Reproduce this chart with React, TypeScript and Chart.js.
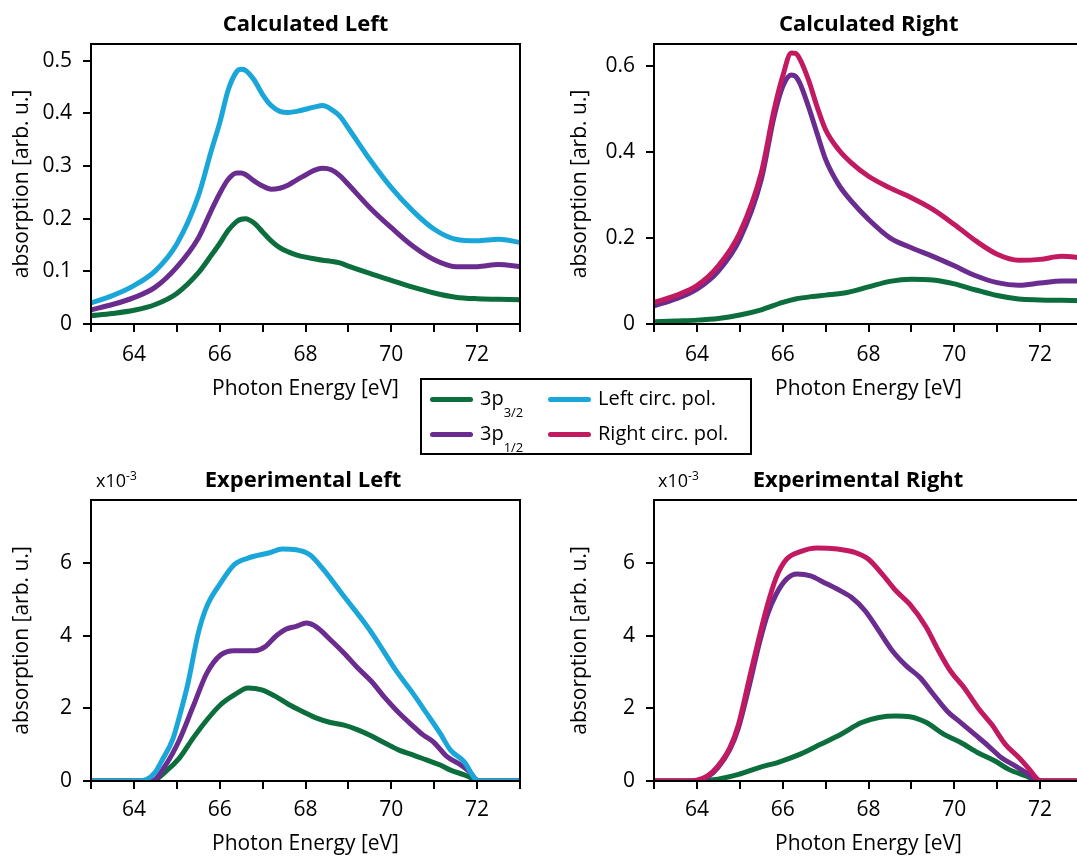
import React, { useEffect, useRef } from 'react';
import { Chart, registerables } from 'chart.js';

Chart.register(...registerables);
Chart.defaults.color = '#000';

const FONT = "'Open Sans', sans-serif";

const GREEN = '#0b6e3c';
const PURPLE = '#6a2c8e';
const BLUE = '#1ba6da';
const MAGENTA = '#c21a60';

// ---- Calculated, left circular polarisation ----
const calcLeftTotalE = [63, 63.5, 64, 64.5, 65, 65.5, 65.8, 66, 66.2, 66.4, 66.5, 66.6, 66.8, 67, 67.2, 67.4, 67.6, 67.8, 68, 68.2, 68.4, 68.6, 68.8, 69, 69.5, 70, 70.5, 71, 71.5, 72, 72.5, 73];
const calcLeftTotal = [0.04, 0.054, 0.073, 0.101, 0.152, 0.243, 0.328, 0.382, 0.445, 0.48, 0.484, 0.482, 0.464, 0.436, 0.415, 0.404, 0.402, 0.404, 0.408, 0.412, 0.415, 0.408, 0.395, 0.372, 0.3125, 0.259, 0.215, 0.18, 0.161, 0.158, 0.161, 0.155];
const calcLeftHalfE = [63, 63.5, 64, 64.5, 65, 65.5, 65.8, 66, 66.2, 66.4, 66.5, 66.6, 66.8, 67, 67.2, 67.4, 67.6, 67.8, 68, 68.2, 68.4, 68.6, 68.8, 69, 69.5, 70, 70.5, 71, 71.5, 72, 72.5, 73];
const calcLeftHalf = [0.027, 0.037, 0.05, 0.07, 0.108, 0.163, 0.215, 0.248, 0.275, 0.287, 0.287, 0.284, 0.272, 0.262, 0.256, 0.258, 0.264, 0.274, 0.283, 0.292, 0.296, 0.293, 0.282, 0.265, 0.221, 0.183, 0.148, 0.122, 0.109, 0.109, 0.113, 0.109];
const calcLeftThreeHalfE = [63, 63.5, 64, 64.5, 65, 65.5, 65.8, 66, 66.2, 66.4, 66.5, 66.6, 66.8, 67, 67.2, 67.4, 67.6, 67.8, 68, 68.2, 68.4, 68.6, 68.8, 69, 69.5, 70, 70.5, 71, 71.5, 72, 72.5, 73];
const calcLeftThreeHalf = [0.016, 0.02, 0.026, 0.037, 0.058, 0.097, 0.13, 0.153, 0.178, 0.195, 0.199, 0.2, 0.192, 0.175, 0.158, 0.145, 0.137, 0.131, 0.127, 0.124, 0.121, 0.119, 0.116, 0.11, 0.096, 0.083, 0.07, 0.059, 0.051, 0.048, 0.047, 0.046];

// ---- Calculated, right circular polarisation ----
const calcRightTotalE = [63, 63.5, 64, 64.5, 65, 65.5, 65.8, 66, 66.2, 66.3, 66.4, 66.6, 66.8, 67, 67.3, 67.6, 68, 68.5, 69, 69.5, 70, 70.5, 71, 71.5, 72, 72.5, 73];
const calcRightTotal = [0.05, 0.066, 0.089, 0.135, 0.212, 0.351, 0.497, 0.575, 0.629, 0.628, 0.615, 0.567, 0.505, 0.451, 0.405, 0.374, 0.343, 0.316, 0.293, 0.266, 0.231, 0.193, 0.162, 0.148, 0.15, 0.157, 0.154];
const calcRightHalfE = [63, 63.5, 64, 64.5, 65, 65.5, 65.8, 66, 66.2, 66.3, 66.4, 66.6, 66.8, 67, 67.3, 67.6, 68, 68.5, 69, 69.5, 70, 70.5, 71, 71.5, 72, 72.5, 73];
const calcRightHalf = [0.042, 0.058, 0.081, 0.123, 0.197, 0.335, 0.482, 0.551, 0.578, 0.575, 0.559, 0.505, 0.443, 0.382, 0.324, 0.285, 0.243, 0.2, 0.177, 0.157, 0.135, 0.112, 0.096, 0.09, 0.095, 0.1, 0.1];
const calcRightThreeHalfE = [63, 63.5, 64, 64.5, 65, 65.5, 66, 66.3, 66.7, 67, 67.5, 68, 68.5, 69, 69.5, 70, 70.5, 71, 71.5, 72, 72.5, 73];
const calcRightThreeHalf = [0.005, 0.007, 0.009, 0.013, 0.021, 0.033, 0.05, 0.058, 0.064, 0.067, 0.073, 0.086, 0.099, 0.104, 0.102, 0.093, 0.079, 0.066, 0.058, 0.056, 0.055, 0.054];

// ---- Experimental, left circular polarisation (x10^-3) ----
const expLeftTotalE = [63, 64, 64.3, 64.5, 64.66, 64.9, 65.06, 65.26, 65.5, 65.7, 66.02, 66.34, 66.66, 67.14, 67.46, 67.78, 68.1, 68.42, 68.9, 69.38, 69.7, 70.1, 70.5, 70.82, 71.14, 71.38, 71.7, 71.98, 72.1, 73];
const expLeftTotal = [0, 0, 0.05, 0.25, 0.58, 1.13, 1.77, 2.69, 4.07, 4.81, 5.45, 5.96, 6.14, 6.28, 6.39, 6.37, 6.23, 5.82, 5.08, 4.35, 3.8, 3.06, 2.42, 1.87, 1.31, 0.85, 0.53, 0.03, 0, 0];
const expLeftHalfE = [63, 64.42, 64.74, 65.06, 65.38, 65.7, 66.02, 66.34, 66.82, 67.06, 67.3, 67.54, 67.78, 68.02, 68.26, 68.58, 68.9, 69.22, 69.54, 69.86, 70.18, 70.5, 70.74, 70.98, 71.3, 71.62, 71.86, 71.98, 72.1, 73];
const expLeftHalf = [0, 0, 0.44, 1.13, 2.05, 2.97, 3.47, 3.59, 3.59, 3.7, 3.98, 4.18, 4.26, 4.35, 4.24, 3.89, 3.52, 3.11, 2.74, 2.28, 1.87, 1.52, 1.27, 1.08, 0.67, 0.44, 0.21, 0.03, 0, 0];
const expLeftThreeHalfE = [63, 64.42, 64.74, 65.06, 65.38, 65.7, 66.02, 66.34, 66.66, 66.98, 67.3, 67.62, 67.94, 68.26, 68.58, 68.9, 69.22, 69.54, 69.86, 70.18, 70.5, 70.82, 71.14, 71.38, 71.7, 71.98, 72.1, 73];
const expLeftThreeHalf = [0, 0, 0.26, 0.63, 1.18, 1.68, 2.1, 2.37, 2.56, 2.51, 2.33, 2.1, 1.91, 1.73, 1.61, 1.54, 1.41, 1.24, 1.04, 0.85, 0.72, 0.58, 0.44, 0.3, 0.17, 0.03, 0, 0];

// ---- Experimental, right circular polarisation (x10^-3) ----
const expRightTotalE = [63, 63.8, 64, 64.25, 64.49, 64.77, 64.97, 65.21, 65.45, 65.65, 65.85, 66.09, 66.41, 66.8, 67.28, 67.68, 68, 68.32, 68.64, 68.96, 69.35, 69.59, 69.91, 70.23, 70.55, 70.87, 71.19, 71.51, 71.75, 71.98, 72.1, 73];
const expRightTotal = [0, 0, 0.02, 0.14, 0.41, 0.92, 1.56, 2.76, 3.95, 4.87, 5.61, 6.11, 6.32, 6.42, 6.39, 6.3, 6.11, 5.7, 5.24, 4.87, 4.23, 3.68, 3.03, 2.57, 2.02, 1.56, 1.01, 0.64, 0.32, 0.02, 0, 0];
const expRightHalfE = [63, 64, 64.25, 64.49, 64.77, 64.97, 65.21, 65.45, 65.65, 65.85, 66.09, 66.33, 66.65, 66.96, 67.28, 67.6, 67.92, 68.24, 68.56, 68.88, 69.2, 69.51, 69.83, 70.15, 70.47, 70.79, 71.1, 71.43, 71.67, 71.98, 72.1, 73];
const expRightHalf = [0, 0, 0.11, 0.37, 0.87, 1.47, 2.57, 3.77, 4.6, 5.15, 5.56, 5.7, 5.65, 5.47, 5.28, 5.06, 4.69, 4.14, 3.58, 3.17, 2.85, 2.39, 1.93, 1.61, 1.29, 0.97, 0.64, 0.41, 0.23, 0, 0, 0];
const expRightThreeHalfE = [63, 64, 64.49, 64.97, 65.45, 65.93, 66.41, 66.88, 67.36, 67.84, 68.24, 68.64, 68.96, 69.35, 69.75, 70.15, 70.55, 70.95, 71.27, 71.67, 71.98, 72.1, 73];
const expRightThreeHalf = [0, 0, 0.05, 0.18, 0.37, 0.53, 0.74, 1.01, 1.29, 1.61, 1.75, 1.79, 1.77, 1.61, 1.29, 1.06, 0.78, 0.55, 0.32, 0.14, 0, 0, 0];

// Axis ranges and tick steps
const energyRange = [63, 73];
const calcLeftYMax = 0.532;
const calcRightYMax = 0.65;
const expYMax = 7.74;

type Series = { e: number[]; v: number[]; color: string };

type PanelSpec = {
  left: number;
  top: number;
  width: number;
  height: number;
  padTop: number;
  xAxisHeight: number;
  yMax: number;
  yStep: number;
  xTickPad: number;
  xTitlePad: number;
  yTitlePad: number;
  series: Series[];
};

const AREA_LEFT = 91;
const AREA_WIDTH = 429;

const framePlugin = {
  id: 'frame',
  afterDraw(chart: any) {
    const { ctx, chartArea: a } = chart;
    ctx.save();
    ctx.strokeStyle = '#000';
    ctx.lineWidth = 2;
    ctx.strokeRect(a.left, a.top, a.right - a.left, a.bottom - a.top);
    ctx.restore();
  },
};

function Panel({ spec }: { spec: PanelSpec }) {
  const ref = useRef<HTMLCanvasElement>(null);

  useEffect(() => {
    if (!ref.current) return;
    const font = { family: FONT, size: 21 };
    const gridOpts = {
      display: true,
      drawOnChartArea: false,
      drawTicks: true,
      tickLength: 8,
      tickWidth: 2,
      lineWidth: 2,
      tickColor: '#000',
      color: '#000',
    };
    const chart = new Chart(ref.current, {
      type: 'line',
      data: {
        datasets: spec.series.map((s) => ({
          data: s.e.map((x, i) => ({ x, y: s.v[i] })),
          borderColor: s.color,
          borderWidth: 5,
          pointRadius: 0,
          fill: false,
          cubicInterpolationMode: 'monotone' as const,
          borderJoinStyle: 'round' as const,
          clip: 0,
        })),
      },
      options: {
        animation: false,
        responsive: false,
        maintainAspectRatio: false,
        events: [],
        layout: {
          autoPadding: false,
          padding: {
            top: spec.padTop,
            left: 0,
            bottom: 0,
            right: spec.width - AREA_LEFT - AREA_WIDTH,
          },
        },
        plugins: {
          legend: { display: false },
          tooltip: { enabled: false },
          title: { display: false },
        },
        scales: {
          x: {
            type: 'linear',
            min: energyRange[0],
            max: energyRange[1],
            afterFit: (s: any) => {
              s.height = spec.xAxisHeight;
            },
            ticks: {
              stepSize: 1,
              autoSkip: false,
              maxRotation: 0,
              includeBounds: false,
              padding: spec.xTickPad,
              font,
              color: '#000',
              callback: (v: any) => (Math.round(v) % 2 === 0 ? String(v) : ''),
            },
            grid: gridOpts,
            border: { display: false },
            title: {
              display: true,
              text: 'Photon Energy [eV]',
              font,
              color: '#000',
              padding: { top: 0, bottom: spec.xTitlePad },
            },
          },
          y: {
            type: 'linear',
            min: 0,
            max: spec.yMax,
            afterFit: (s: any) => {
              s.width = AREA_LEFT;
            },
            ticks: {
              stepSize: spec.yStep,
              includeBounds: false,
              padding: 11,
              font,
              color: '#000',
            },
            grid: gridOpts,
            border: { display: false },
            title: {
              display: true,
              text: 'absorption [arb. u.]',
              font,
              color: '#000',
              padding: { top: spec.yTitlePad, bottom: 0 },
            },
          },
        },
      },
      plugins: [framePlugin],
    } as any);
    return () => chart.destroy();
  }, [spec]);

  return (
    <canvas
      ref={ref}
      width={spec.width}
      height={spec.height}
      style={{
        position: 'absolute',
        left: spec.left,
        top: spec.top,
        width: spec.width,
        height: spec.height,
        display: 'block',
      }}
    />
  );
}

const panels: PanelSpec[] = [
  {
    left: 0, top: 0, width: 530, height: 410, padTop: 44, xAxisHeight: 86,
    yMax: calcLeftYMax, yStep: 0.1, xTickPad: 10, xTitlePad: 8, yTitlePad: 9,
    series: [
      { e: calcLeftTotalE, v: calcLeftTotal, color: BLUE },
      { e: calcLeftHalfE, v: calcLeftHalf, color: PURPLE },
      { e: calcLeftThreeHalfE, v: calcLeftThreeHalf, color: GREEN },
    ],
  },
  {
    left: 563, top: 0, width: 530, height: 410, padTop: 44, xAxisHeight: 86,
    yMax: calcRightYMax, yStep: 0.2, xTickPad: 10, xTitlePad: 8, yTitlePad: 4.5,
    series: [
      { e: calcRightTotalE, v: calcRightTotal, color: MAGENTA },
      { e: calcRightHalfE, v: calcRightHalf, color: PURPLE },
      { e: calcRightThreeHalfE, v: calcRightThreeHalf, color: GREEN },
    ],
  },
  {
    left: 0, top: 440, width: 530, height: 417, padTop: 60, xAxisHeight: 76,
    yMax: expYMax, yStep: 2, xTickPad: 8, xTitlePad: 0, yTitlePad: 9,
    series: [
      { e: expLeftTotalE, v: expLeftTotal, color: BLUE },
      { e: expLeftHalfE, v: expLeftHalf, color: PURPLE },
      { e: expLeftThreeHalfE, v: expLeftThreeHalf, color: GREEN },
    ],
  },
  {
    left: 563, top: 440, width: 530, height: 417, padTop: 60, xAxisHeight: 76,
    yMax: expYMax, yStep: 2, xTickPad: 8, xTitlePad: 0, yTitlePad: 4.5,
    series: [
      { e: expRightTotalE, v: expRightTotal, color: MAGENTA },
      { e: expRightHalfE, v: expRightHalf, color: PURPLE },
      { e: expRightThreeHalfE, v: expRightThreeHalf, color: GREEN },
    ],
  },
];

const titles = [
  { text: 'Calculated Left', x: 305.5, baseline: 30 },
  { text: 'Calculated Right', x: 868.8, baseline: 30 },
  { text: 'Experimental Left', x: 303, baseline: 486.7 },
  { text: 'Experimental Right', x: 858, baseline: 486.7 },
];

const multipliers = [
  { x: 96, baseline: 486.7 },
  { x: 658, baseline: 486.7 },
];

const legendItems = [
  { color: GREEN, main: '3p', sub: '3/2', col: 0, row: 0 },
  { color: PURPLE, main: '3p', sub: '1/2', col: 0, row: 1 },
  { color: BLUE, main: 'Left circ. pol.', sub: '', col: 1, row: 0 },
  { color: MAGENTA, main: 'Right circ. pol.', sub: '', col: 1, row: 1 },
];

function Legend() {
  const colX = [8, 126];
  const rowY = [19, 54];
  return (
    <div
      style={{
        position: 'absolute',
        left: 420,
        top: 378,
        width: 332,
        height: 77,
        boxSizing: 'border-box',
        border: '2px solid #000',
        background: '#fff',
        fontFamily: FONT,
        fontSize: 20,
        lineHeight: '20px',
        color: '#000',
      }}
    >
      {legendItems.map((it, i) => (
        <React.Fragment key={i}>
          <div
            style={{
              position: 'absolute',
              left: colX[it.col],
              top: rowY[it.row] - 2.5,
              width: 43,
              height: 5,
              borderRadius: 2.5,
              background: it.color,
            }}
          />
          <div
            style={{
              position: 'absolute',
              left: colX[it.col] + 50,
              top: rowY[it.row] - 11.5,
              whiteSpace: 'nowrap',
            }}
          >
            {it.main}
            {it.sub ? (
              <span style={{ fontSize: 13, position: 'relative', top: 12 }}>{it.sub}</span>
            ) : null}
          </div>
        </React.Fragment>
      ))}
    </div>
  );
}

export default function App() {
  return (
    <div
      style={{
        position: 'fixed',
        left: 0,
        top: 0,
        width: 1077,
        height: 857,
        overflow: 'hidden',
        background: '#fff',
      }}
    >
      {panels.map((p, i) => (
        <Panel key={i} spec={p} />
      ))}
      {titles.map((t, i) => (
        <div
          key={i}
          style={{
            position: 'absolute',
            left: t.x - 150,
            width: 300,
            top: t.baseline - 19.5,
            textAlign: 'center',
            fontFamily: FONT,
            fontWeight: 700,
            fontSize: 22,
            lineHeight: '22px',
            whiteSpace: 'nowrap',
          }}
        >
          {t.text}
        </div>
      ))}
      {multipliers.map((m, i) => (
        <div
          key={i}
          style={{
            position: 'absolute',
            left: m.x,
            top: m.baseline - 16,
            fontFamily: FONT,
            fontSize: 18,
            lineHeight: '18px',
            whiteSpace: 'nowrap',
          }}
        >
          x10
          <span style={{ fontSize: 12, position: 'relative', top: -7 }}>-3</span>
        </div>
      ))}
      <Legend />
    </div>
  );
}
